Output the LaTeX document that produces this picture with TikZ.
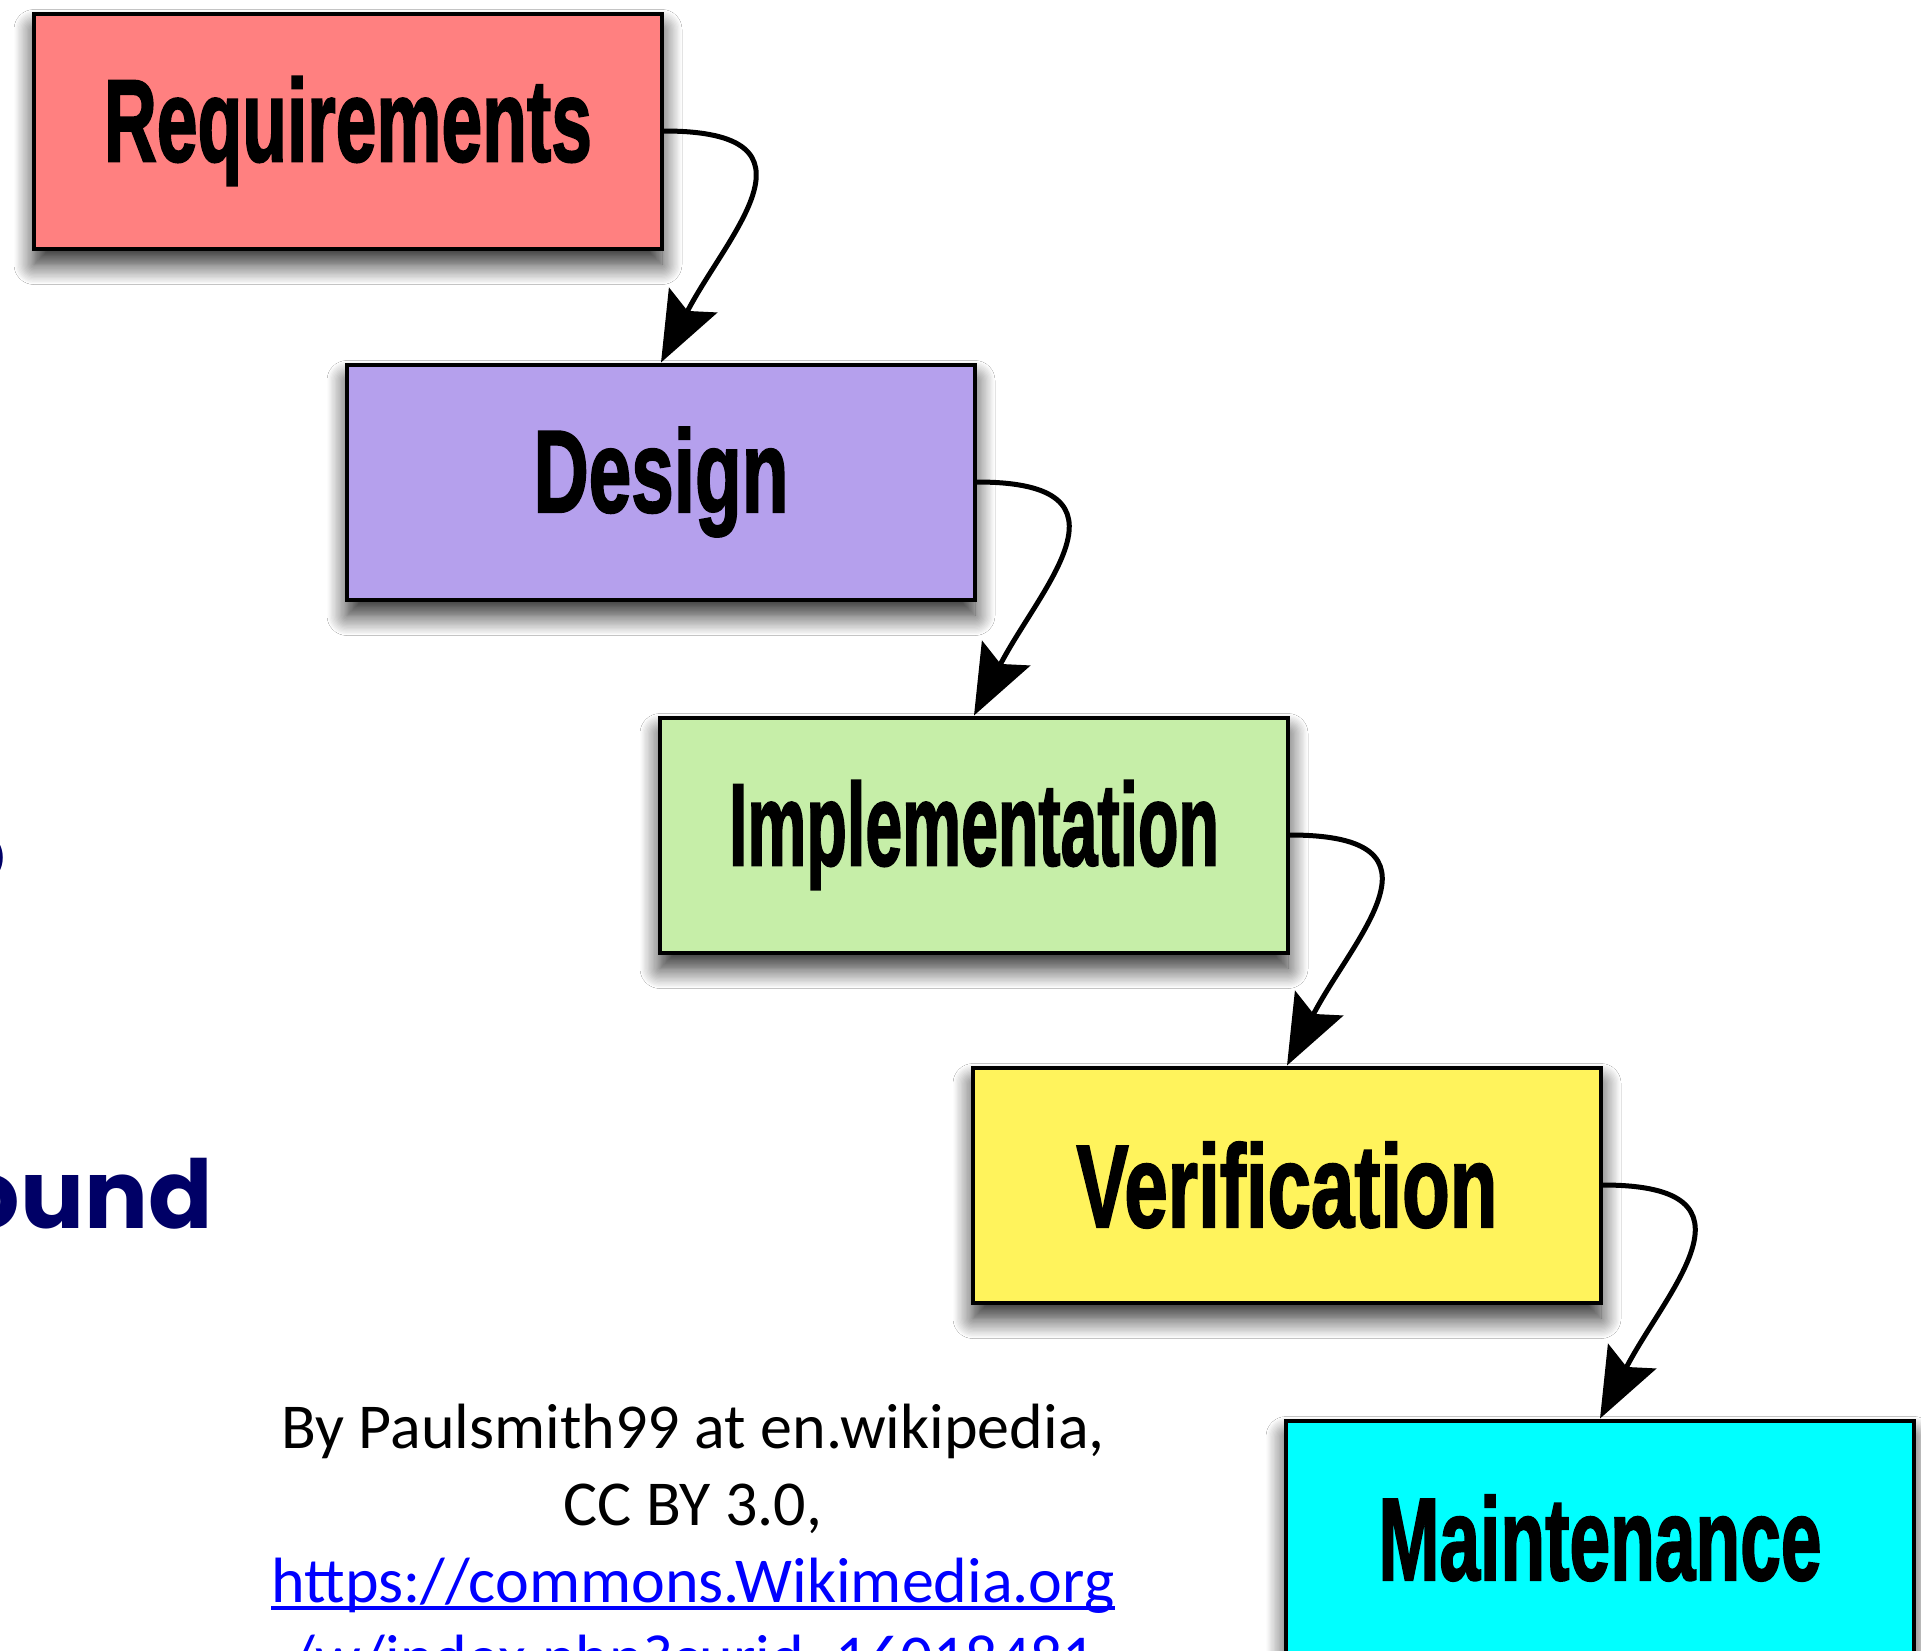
\documentclass[tikz,border=0pt]{standalone}
\usepackage{fontspec}
\usepackage{graphicx}
\setmainfont{Liberation Sans}
\newfontfamily\boxfont{Liberation Sans}[BoldFeatures={FakeBold=2}]
\newfontfamily\creditfont{Carlito}
\newfontfamily\headfont{Poppins}
\usetikzlibrary{arrows.meta,shadows.blur}

\definecolor{reqfill}{RGB}{255,128,128}
\definecolor{desfill}{RGB}{181,160,237}
\definecolor{impfill}{RGB}{198,238,168}
\definecolor{verfill}{RGB}{255,243,92}
\definecolor{maifill}{RGB}{0,255,255}
\definecolor{navy}{RGB}{0,0,102}
\definecolor{linkblue}{RGB}{0,0,255}

% condensed heavy label squeezed to a given width
\newcommand\phaselabel[2]{\resizebox{#1}{\height}{\boxfont\bfseries\fontsize{117}{120}\selectfont #2}}

\tikzset{
  phase/.style={draw=black, line width=4pt, minimum width=628pt, minimum height=235pt,
    inner sep=0pt,
    blur shadow={shadow xshift=0pt, shadow yshift=-16pt, shadow blur radius=20pt,
      shadow blur steps=16, shadow opacity=85}},
  flow/.style={line width=5pt, -{Stealth[length=70pt,width=54pt,inset=12pt]}},
  credit/.style={inner sep=0pt, anchor=base, font=\creditfont\fontsize{64}{77}\selectfont},
  heading/.style={inner sep=0pt, anchor=base east, text=navy,
    font=\headfont\bfseries\fontsize{95}{100}\selectfont}
}

\begin{document}
\begin{tikzpicture}[x=1pt,y=-1pt]
\useasboundingbox (0,0) rectangle (1921,1650);
\clip (0,0) rectangle (1921,1650);
\fill[white] (0,0) rectangle (1921,1650);

% cut-off heading text at the left edge
\node[heading] (hdA) at (6,884) {o};
\node[heading] (hdB) at (213,1228) {ound};

% waterfall phases
\node[phase, fill=reqfill] (req) at (348,131)  {\phaselabel{488pt}{Requirements}};
\node[phase, fill=desfill] (des) at (661,482)  {\phaselabel{255pt}{Design}};
\node[phase, fill=impfill] (imp) at (974,835)  {\phaselabel{490pt}{Implementation}};
\node[phase, fill=verfill] (ver) at (1287,1185) {\phaselabel{421pt}{Verification}};
\node[phase, fill=maifill] (mai) at (1600,1538) {\phaselabel{443pt}{Maintenance}};

% flow arrows between phases
\draw[flow] (req.east) .. controls +(168,0) and +(66,-128) .. (des.north);
\draw[flow] (des.east) .. controls +(168,0) and +(66,-128) .. (imp.north);
\draw[flow] (imp.east) .. controls +(168,0) and +(66,-128) .. (ver.north);
\draw[flow] (ver.east) .. controls +(168,0) and +(66,-128) .. (mai.north);

% attribution
\node[credit] (cr1) at (693,1448) {By Paulsmith99 at en.wikipedia,};
\node[credit] (cr2) at (693,1525) {CC BY 3.0,};
\node[credit, text=linkblue] (cr3) at (693,1602) {https://commons.Wikimedia.org};
\node[credit, text=linkblue] (cr4) at (693,1679) {/w/index.php?curid=16018481};
\draw[linkblue, line width=3.5pt] ([yshift=-6pt]cr3.base west) -- ([yshift=-6pt]cr3.base east);
\end{tikzpicture}
\end{document}
